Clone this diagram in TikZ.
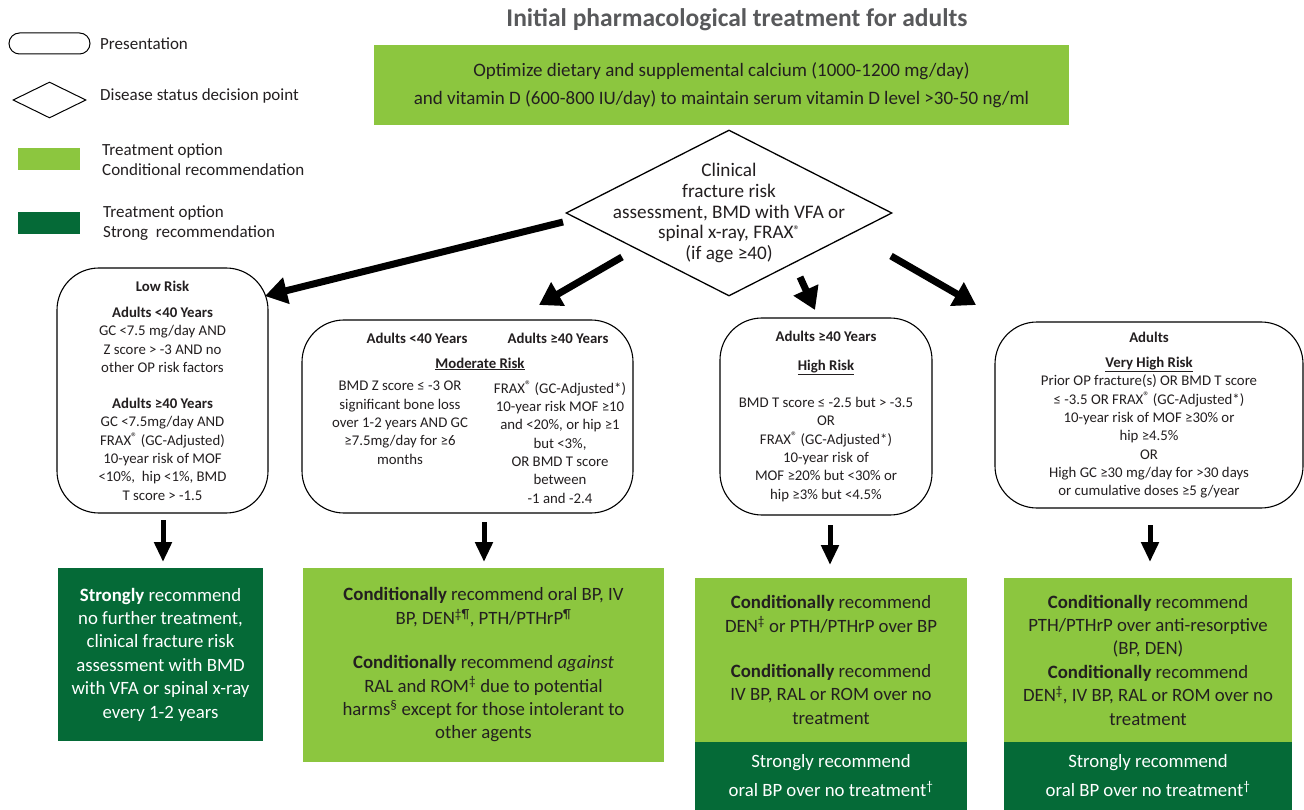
\documentclass[tikz,border=0pt]{standalone}
\usepackage{fontspec}
\setmainfont{Carlito}
\usetikzlibrary{arrows.meta,shapes.geometric}

\definecolor{condgreen}{HTML}{8CC63F}
\definecolor{stronggreen}{HTML}{056A37}
\definecolor{titlegray}{HTML}{58595B}
\definecolor{inkgray}{HTML}{231F20}

\newcommand{\regmark}{\raisebox{0.5ex}{\fontsize{12.5}{12}\selectfont ®}}

\begin{document}
\begin{tikzpicture}[x=1pt,y=-1pt,
  present/.style={draw=black,line width=1.1pt,rounded corners=42pt,inner sep=0pt,align=center,text=inkgray,font=\fontsize{14.8}{18.3}\selectfont},
  boxtext/.style={align=center,inner sep=0pt,text=inkgray,font=\fontsize{14.8}{18.3}\selectfont},
  decision/.style={draw=black,line width=1.3pt,diamond,inner sep=0pt},
  condbox/.style={fill=condgreen,inner sep=0pt,align=center,text=inkgray,font=\fontsize{18.8}{23.4}\selectfont},
  strongbox/.style={condbox,fill=stronggreen,text=white},
  bigarrow/.style={line width=7pt,-{Triangle[length=22pt,width=26pt]}},
  downarrow/.style={line width=5pt,-{Triangle[length=20pt,width=17pt]}},
  legendtext/.style={anchor=west,align=left,inner sep=0pt,text=inkgray,font=\fontsize{17}{19.5}\selectfont}]

\useasboundingbox (0,0) rectangle (1304,810);
\fill[white] (0,0) rectangle (1304,810);

% legend
\node[draw=black,line width=1pt,rounded corners=10.5pt,minimum width=81pt,minimum height=21pt] (keypres) at (49.5,43.5) {};
\node[legendtext] (keypreslbl) at (100,44) {Presentation};
\node[decision,line width=1pt,minimum width=73pt,minimum height=36pt] (keydec) at (49.5,100) {};
\node[legendtext] (keydeclbl) at (100,96) {Disease status decision point};
\node[fill=condgreen,minimum width=62pt,minimum height=22pt,inner sep=0pt] (keycond) at (49,159) {};
\node[legendtext] (keycondlbl) at (102,159.5) {Treatment option\\Conditional recommendation};
\node[fill=stronggreen,minimum width=62pt,minimum height=22pt,inner sep=0pt] (keystrong) at (49,223) {};
\node[legendtext] (keystronglbl) at (103,223) {Treatment option\\Strong~ recommendation};

% title and calcium box
\node[text=titlegray,font=\fontsize{25.5}{28}\selectfont\bfseries] (title) at (737,20) {Initial pharmacological treatment for adults};
\node[condbox,minimum width=695pt,minimum height=80pt,font=\fontsize{19}{28}\selectfont] (calcium) at (721.5,85)
  {Optimize dietary and supplemental calcium (1000-1200 mg/day)\\and vitamin D (600-800 IU/day) to maintain serum vitamin D level >30-50 ng/ml};

% decision point
\node[decision,minimum width=326pt,minimum height=166pt] (risk) at (729,213) {};
\node[boxtext,font=\fontsize{19.2}{20.8}\selectfont] (risktext) at (729,213)
  {Clinical\\fracture risk\\assessment, BMD with VFA or\\spinal x-ray, FRAX\regmark\\(if age ≥40)};

% risk groups
\node[present,minimum width=211pt,minimum height=245pt] (low) at (162.5,390.5)
  {\textbf{Low Risk}\\[8pt]
   \textbf{Adults <40 Years}\\GC <7.5 mg/day AND\\Z score > -3 AND no\\other OP risk factors\\[18pt]
   \textbf{Adults ≥40 Years}\\GC <7.5mg/day AND\\FRAX\regmark\ (GC-Adjusted)\\10-year risk of MOF\\<10\%,~ hip <1\%, BMD\\T score > -1.5};

\node[present,minimum width=331pt,minimum height=193pt] (moderate) at (467.5,416.5) {};
\node[boxtext,font=\fontsize{14.8}{18.3}\selectfont\bfseries] (modyoung) at (417,338) {Adults <40 Years};
\node[boxtext,font=\fontsize{14.8}{18.3}\selectfont\bfseries] (modold) at (558,338) {Adults ≥40 Years};
\node[boxtext,font=\fontsize{14.8}{18.3}\selectfont\bfseries] (modtitle) at (480,364) {\underline{Moderate Risk}};
\node[boxtext,anchor=north] (modleft) at (400,381)
  {BMD Z score ≤ -3 OR\\significant bone loss\\over 1-2 years AND GC\\≥7.5mg/day for ≥6\\months};
\node[boxtext,anchor=north] (modright) at (560,381)
  {FRAX\regmark\ (GC-Adjusted*)\\10-year risk MOF ≥10\\and <20\%, or hip ≥1\\but <3\%,\\OR BMD T score\\between\\-1 and -2.4};

\node[present,minimum width=212pt,minimum height=197pt] (high) at (826,416.5)
  {\textbf{Adults ≥40 Years}\\[10pt]
   \textbf{\underline{High Risk}}\\[19pt]
   BMD T score ≤ -2.5 but > -3.5\\OR\\FRAX\regmark\ (GC-Adjusted*)\\10-year risk of\\MOF ≥20\% but <30\% or\\hip ≥3\% but <4.5\%};

\node[present,minimum width=308pt,minimum height=186pt] (veryhigh) at (1149,415)
  {\textbf{Adults}\\[7pt]
   \textbf{\underline{Very High Risk}}\\
   Prior OP fracture(s) OR BMD T score\\≤ -3.5 OR FRAX\regmark\ (GC-Adjusted*)\\10-year risk of MOF ≥30\% or\\hip ≥4.5\%\\OR\\High GC ≥30 mg/day for >30 days\\or cumulative doses ≥5 g/year};

% treatment options
\node[strongbox,minimum width=205pt,minimum height=173pt] (lowtx) at (160.5,654.5)
  {\textbf{Strongly} recommend\\no further treatment,\\clinical fracture risk\\assessment with BMD\\with VFA or spinal x-ray\\every 1-2 years};

\node[condbox,minimum width=361pt,minimum height=194pt] (modtx) at (483.5,665)
  {\textbf{Conditionally} recommend oral BP, IV\\BP, DEN\textsuperscript{‡¶}, PTH/PTHrP\textsuperscript{¶}\\[21pt]
   \textbf{Conditionally} recommend \textit{against}\\RAL and ROM\textsuperscript{‡} due to potential\\harms\textsuperscript{§} except for those intolerant to\\other agents};

\node[condbox,minimum width=272pt,minimum height=164pt] (hightx) at (831,660)
  {\textbf{Conditionally} recommend\\DEN\textsuperscript{‡} or PTH/PTHrP over BP\\[22pt]
   \textbf{Conditionally} recommend\\IV BP, RAL or ROM over no\\treatment};
\node[strongbox,minimum width=272pt,minimum height=68pt,font=\fontsize{18.8}{29}\selectfont] (highstrong) at (831,776)
  {Strongly recommend\\oral BP over no treatment\textsuperscript{†}};

\node[condbox,minimum width=288pt,minimum height=164pt] (veryhightx) at (1148,660)
  {\textbf{Conditionally} recommend\\PTH/PTHrP over anti-resorptive\\(BP, DEN)\\
   \textbf{Conditionally} recommend\\DEN\textsuperscript{‡}, IV BP, RAL or ROM over no\\treatment};
\node[strongbox,minimum width=288pt,minimum height=68pt,font=\fontsize{18.8}{29}\selectfont] (veryhighstrong) at (1148,776)
  {Strongly recommend\\oral BP over no treatment\textsuperscript{†}};

% arrow ends
\coordinate (s1) at (563,222);
\coordinate (e1) at (265,296);
\coordinate (s2) at (622,257);
\coordinate (e2) at (539,305);
\coordinate (s3) at (800,277);
\coordinate (e3) at (815,310);
\coordinate (s4) at (891,256);
\coordinate (e4) at (976,305);

\path (s1) edge[bigarrow] (e1);
\path (s2) edge[bigarrow] (e2);
\path (s3) edge[bigarrow] (e3);
\path (s4) edge[bigarrow] (e4);

\coordinate (d1) at (163,520);
\coordinate (f1) at (163,562);
\coordinate (d2) at (484,522);
\coordinate (f2) at (484,562);
\coordinate (d3) at (830,525);
\coordinate (f3) at (830,565);
\coordinate (d4) at (1150,525);
\coordinate (f4) at (1150,562);

\path (d1) edge[downarrow] (f1);
\path (d2) edge[downarrow] (f2);
\path (d3) edge[downarrow] (f3);
\path (d4) edge[downarrow] (f4);

\end{tikzpicture}
\end{document}
